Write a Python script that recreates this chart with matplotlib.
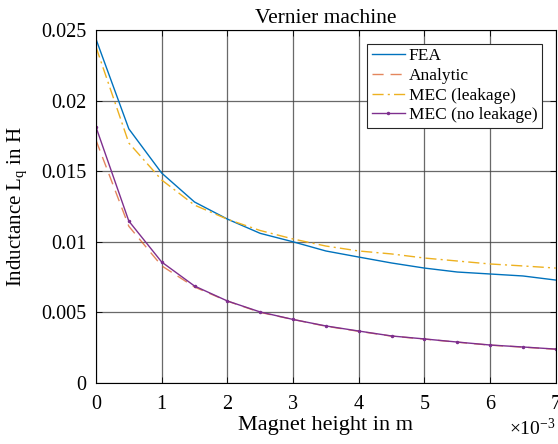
import numpy as np
import matplotlib.pyplot as plt
from matplotlib.ticker import FixedLocator, FuncFormatter

plt.rcParams['font.family'] = ['Liberation Serif', 'DejaVu Serif']
plt.rcParams['mathtext.fontset'] = 'custom'
plt.rcParams['mathtext.rm'] = 'Liberation Serif'
plt.rcParams['mathtext.it'] = 'Liberation Serif:italic'

# magnet height in mm (axis shows x10^-3 m)
h_mm = [0, 0.5, 1, 1.5, 2, 2.5, 3, 3.5, 4, 4.5, 5, 5.5, 6, 6.5, 7]

L_fea = [0.02436, 0.0180, 0.01487, 0.01282, 0.01161, 0.0106, 0.0100, 0.00935,
         0.00892, 0.0085, 0.00814, 0.00786, 0.00772, 0.00758, 0.00729]
L_analytic = [0.0172, 0.0111, 0.0083, 0.0068, 0.0058, 0.0050, 0.0045, 0.00402,
              0.00366, 0.00332, 0.00311, 0.00289, 0.00268, 0.00254, 0.00239]
L_mec_leak = [0.0238, 0.0170, 0.01438, 0.0126, 0.0116, 0.0108, 0.0102, 0.0097,
              0.00935, 0.00914, 0.00885, 0.00864, 0.00843, 0.00829, 0.00814]
L_mec_noleak = [0.01813, 0.01147, 0.00857, 0.00687, 0.00581, 0.00503, 0.0045,
                0.00404, 0.00368, 0.00333, 0.00312, 0.0029, 0.00269, 0.00255, 0.0024]

yticks = [0, 0.005, 0.01, 0.015, 0.02, 0.025]

fig = plt.figure(figsize=(5.58, 4.44), dpi=100)
ax = fig.add_axes([0.172, 0.1374, 0.824, 0.795])

ax.plot(h_mm, L_fea, color='#0072BD', lw=1.0, label='FEA')
ax.plot(h_mm, L_analytic, color='#D95319', lw=1.0, ls=(0, (8, 5)), alpha=0.7,
        label='Analytic')
ax.plot(h_mm, L_mec_leak, color='#EDB120', lw=1.0, ls=(0, (8, 3, 1.5, 3)),
        label='MEC (leakage)')
ax.plot(h_mm, L_mec_noleak, color='#7E2F8E', lw=1.0, marker='.', ms=3,
        label='MEC (no leakage)')

ax.set_xlim(0, 7)
ax.set_ylim(0, 0.025)
ax.xaxis.set_major_locator(FixedLocator(range(8)))
ax.yaxis.set_major_locator(FixedLocator(yticks))
ax.yaxis.set_major_formatter(FuncFormatter(lambda v, p: ('%g' % v)))
ax.tick_params(direction='in', top=True, right=True, labelsize=14.5, length=4,
               width=0.6)
ax.tick_params(axis='x', pad=9)
ax.tick_params(axis='y', pad=7)
ax.grid(True, color='#444444', lw=0.9, alpha=0.8)
for s in ax.spines.values():
    s.set_linewidth(0.8)

ax.set_title('Vernier machine', fontsize=15.5, pad=5)
ax.set_xlabel('Magnet height in m', fontsize=16, labelpad=1)
ax.set_ylabel('Inductance L$_\\mathrm{q}$ in H', fontsize=15, labelpad=9)
ax.text(1.0, -0.1, '$\\times$10$^{-3}$', transform=ax.transAxes,
        ha='right', va='top', fontsize=14)

ax.legend(loc='upper right', fontsize=12.5, frameon=True, fancybox=False,
          edgecolor='#262626', framealpha=1, borderaxespad=0.8,
          handlelength=1.9, handletextpad=0.25, borderpad=0.25, labelspacing=0.2)
ax.get_legend().get_frame().set_linewidth(0.8)

fig.savefig('out.png', dpi=100)
